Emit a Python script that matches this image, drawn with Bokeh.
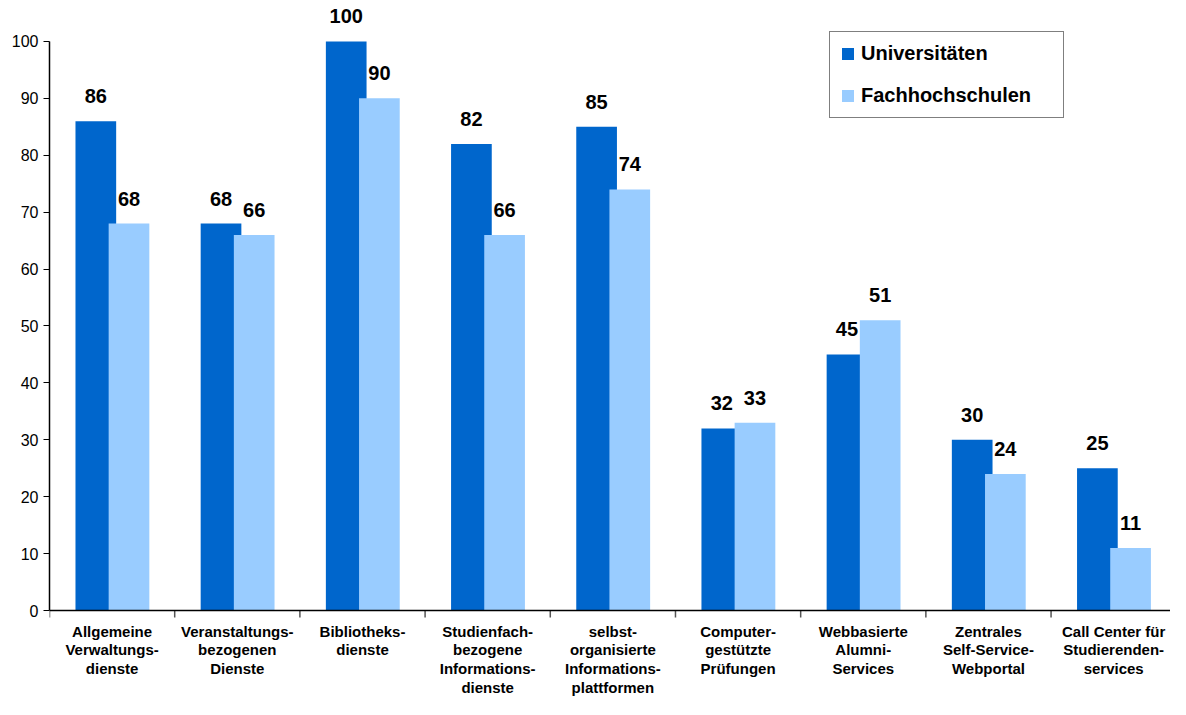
from bokeh.plotting import figure
from bokeh.models import ColumnDataSource, FixedTicker, Range1d, Span
from bokeh.transform import dodge
from bokeh.core.properties import value
from bokeh.embed import file_html
from bokeh.resources import INLINE

categories = [
    "Allgemeine\nVerwaltungs-\ndienste",
    "Veranstaltungs-\nbezogenen\nDienste",
    "Bibliotheks-\ndienste",
    "Studienfach-\nbezogene\nInformations-\ndienste",
    "selbst-\norganisierte\nInformations-\nplattformen",
    "Computer-\ngestützte\nPrüfungen",
    "Webbasierte\nAlumni-\nServices",
    "Zentrales\nSelf-Service-\nWebportal",
    "Call Center für\nStudierenden-\nservices",
]
universitaeten = [86, 68, 100, 82, 85, 32, 45, 30, 25]
fachhochschulen = [68, 66, 90, 66, 74, 33, 51, 24, 11]
y_ticks = list(range(0, 101, 10))

FONT = "Liberation Sans"
DARK = "#0066CC"
LIGHT = "#99CCFF"

n = len(categories)
source = ColumnDataSource(dict(
    x=[i + 0.5 for i in range(n)],
    zero=[0] * n,
    cat=categories,
    uni=universitaeten,
    fh=fachhochschulen,
    uni_s=[str(v) for v in universitaeten],
    fh_s=[str(v) for v in fachhochschulen],
))
bounds = list(range(n + 1))
tick_src = ColumnDataSource(dict(x=bounds, y0=[0] * (n + 1), y1=[-1.23] * (n + 1)))

p = figure(width=1170, height=699, x_range=Range1d(0, 8.954), y_range=Range1d(-15.64, 107.2),
           output_backend="svg", toolbar_location=None, title=None,
           min_border_left=49, min_border_right=0, min_border_top=0, min_border_bottom=0)
p.outline_line_color = None
p.xgrid.visible = False
p.ygrid.visible = False
p.xaxis.visible = False
p.background_fill_color = "white"

p.vbar(x=dodge("x", -0.13, range=p.x_range), top="uni", bottom="zero", width=0.325, source=source,
       fill_color=DARK, line_color=None, legend_label="Universitäten")
p.vbar(x=dodge("x", 0.135, range=p.x_range), top="fh", bottom="zero", width=0.325, source=source,
       fill_color=LIGHT, line_color=None, legend_label="Fachhochschulen")

for off, col in ((-0.13, "uni"), (0.135, "fh")):
    p.text(x=dodge("x", off, range=p.x_range), y=col, text=col + "_s", source=source,
           text_align="center", text_baseline="bottom", y_offset=-18,
           text_font=value(FONT), text_font_style="bold", text_font_size="20px",
           text_color="black")

# category labels under the axis line
p.text(x="x", y="zero", text="cat", source=source, y_offset=12,
       text_align="center", text_baseline="top",
       text_font=value(FONT), text_font_style="bold", text_font_size="15px",
       text_line_height=1.1, text_color="black")

# x axis line and boundary ticks
p.add_layout(Span(location=0, dimension="width", line_color="black", line_width=1.5))
p.segment(x0="x", x1="x", y0="y0", y1="y1", source=tick_src, line_color="#555555", line_width=1.5)

# y axis
yax = p.yaxis[0]
yax.ticker = FixedTicker(ticks=y_ticks)
yax.bounds = (0, 100)
yax.major_tick_out = 6
yax.major_tick_in = 0
yax.minor_tick_out = 0
yax.minor_tick_in = 0
yax.axis_line_color = "black"
yax.axis_line_width = 1.5
yax.major_tick_line_color = "black"
yax.major_label_text_font = FONT
yax.major_label_text_font_size = "16px"
yax.major_label_text_color = "black"
yax.major_label_standoff = 5

lg = p.legend[0]
lg.location = (780, 581)
lg.label_text_font = FONT
lg.label_text_font_style = "bold"
lg.label_text_font_size = "20px"
lg.label_text_color = "black"
lg.glyph_width = 15
lg.glyph_height = 15
lg.label_height = 20
lg.label_width = 192
lg.padding = 10
lg.spacing = 19
lg.label_standoff = 6
lg.margin = 0
lg.border_line_color = "black"
lg.border_line_width = 1
lg.background_fill_color = "white"
lg.background_fill_alpha = 1

open("out.html", "w").write(file_html(p, INLINE))
